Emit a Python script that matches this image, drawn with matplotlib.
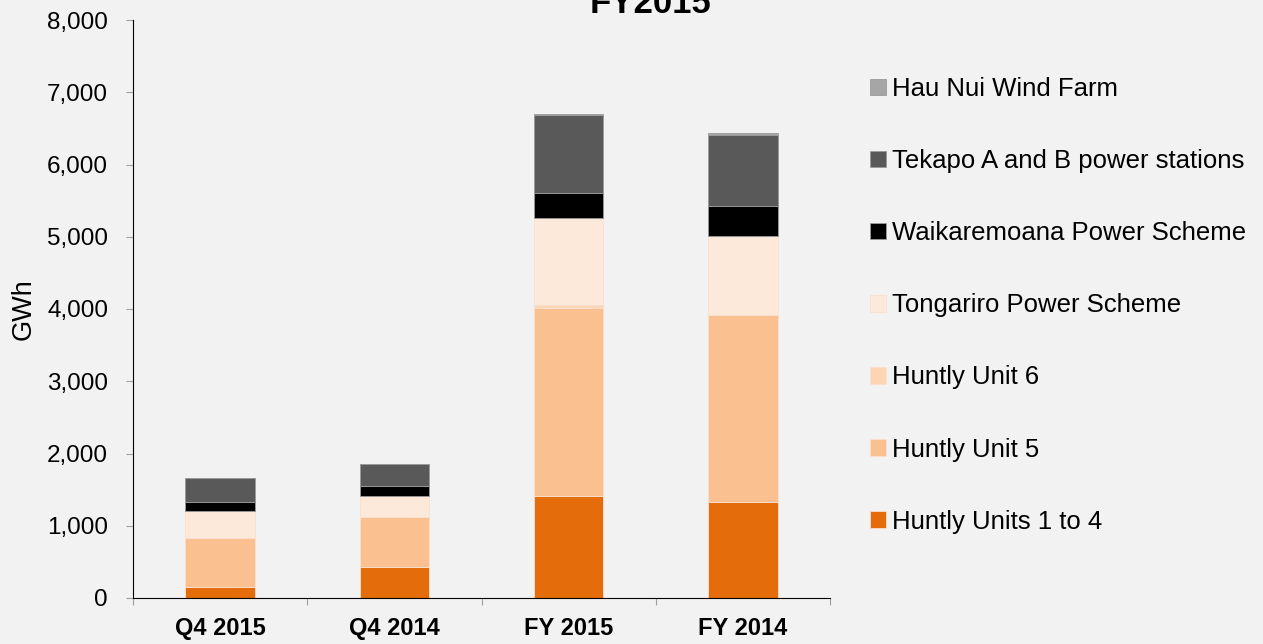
import matplotlib
matplotlib.use("Agg")
import matplotlib.pyplot as plt
import numpy as np

plt.rcParams['font.family'] = ['Liberation Sans', 'DejaVu Sans']

categories = ["Q4 2015", "Q4 2014", "FY 2015", "FY 2014"]
series_names = ["Huntly Units 1 to 4", "Huntly Unit 5", "Huntly Unit 6",
                "Tongariro Power Scheme", "Waikaremoana Power Scheme",
                "Tekapo A and B power stations", "Hau Nui Wind Farm"]
huntly_1_4 = [157, 426, 1405, 1322]
huntly_5 = [679, 697, 2607, 2589]
huntly_6 = [0, 0, 42, 0]
tongariro = [375, 287, 1212, 1096]
waikaremoana = [120, 143, 341, 420]
tekapo = [324, 296, 1074, 985]
hau_nui = [10, 8, 23, 23]
colors = ["#E46C0A", "#FAC090", "#FCD5B4", "#FDE9D9", "#000000", "#595959", "#A6A6A6"]
yticks = [0, 1000, 2000, 3000, 4000, 5000, 6000, 7000, 8000]

series = [huntly_1_4, huntly_5, huntly_6, tongariro, waikaremoana, tekapo, hau_nui]

bg = "#F2F2F2"
fig = plt.figure(figsize=(12.63, 6.44), dpi=100, facecolor=bg)
ax = fig.add_axes([133/1263, 1 - 598/644, (830-133)/1263, (598-20)/644])
ax.set_facecolor(bg)

x = np.arange(len(categories))
bottom = np.zeros(len(categories))
handles = []
for name, vals, c in zip(series_names, series, colors):
    vals = np.array(vals, dtype=float)
    h = ax.bar(x, vals, width=0.4, bottom=bottom, color=c, label=name,
               edgecolor="#F8E0D0" if c not in ("#000000", "#595959", "#A6A6A6") else "#9A9A9A",
               linewidth=0.6)
    handles.append(h)
    bottom += vals

ax.set_xlim(-0.5, 3.5)
ax.set_ylim(0, 8000)
ax.set_yticks(yticks)
ax.set_yticklabels([f"{v:,}" for v in yticks], fontsize=17.5)
ax.set_xticks(np.arange(-0.5, 4.0, 1.0))
ax.set_xticklabels([])
ax.set_xticks(x, minor=True)
ax.set_xticklabels(categories, minor=True, fontsize=17, fontweight='bold')
ax.tick_params(axis='x', which='minor', length=0, pad=14)
ax.tick_params(axis='x', which='major', length=5, color="#A0A0A0", direction='out')
ax.tick_params(axis='y', length=5, color="#A0A0A0", direction='out', pad=13)
for s in ['top', 'right']:
    ax.spines[s].set_visible(False)
ax.spines['left'].set_color('black')
ax.spines['bottom'].set_color('black')

ax.set_ylabel("GWh", fontsize=19.5)
ax.yaxis.set_label_coords(-0.138, 0.5)

fig.text(650/1263, 1 - 13/644, "FY2015", ha='center', va='baseline',
         fontsize=25, fontweight='bold')

leg = ax.legend(handles[::-1], series_names[::-1], loc='upper left',
                bbox_to_anchor=(860/1263, 1 - 67/644), bbox_transform=fig.transFigure,
                frameon=False, fontsize=18.5, handlelength=0.6, handleheight=0.6,
                handletextpad=0.25, labelspacing=1.87, borderaxespad=0)

fig.savefig("out.png", dpi=100, facecolor=bg)
